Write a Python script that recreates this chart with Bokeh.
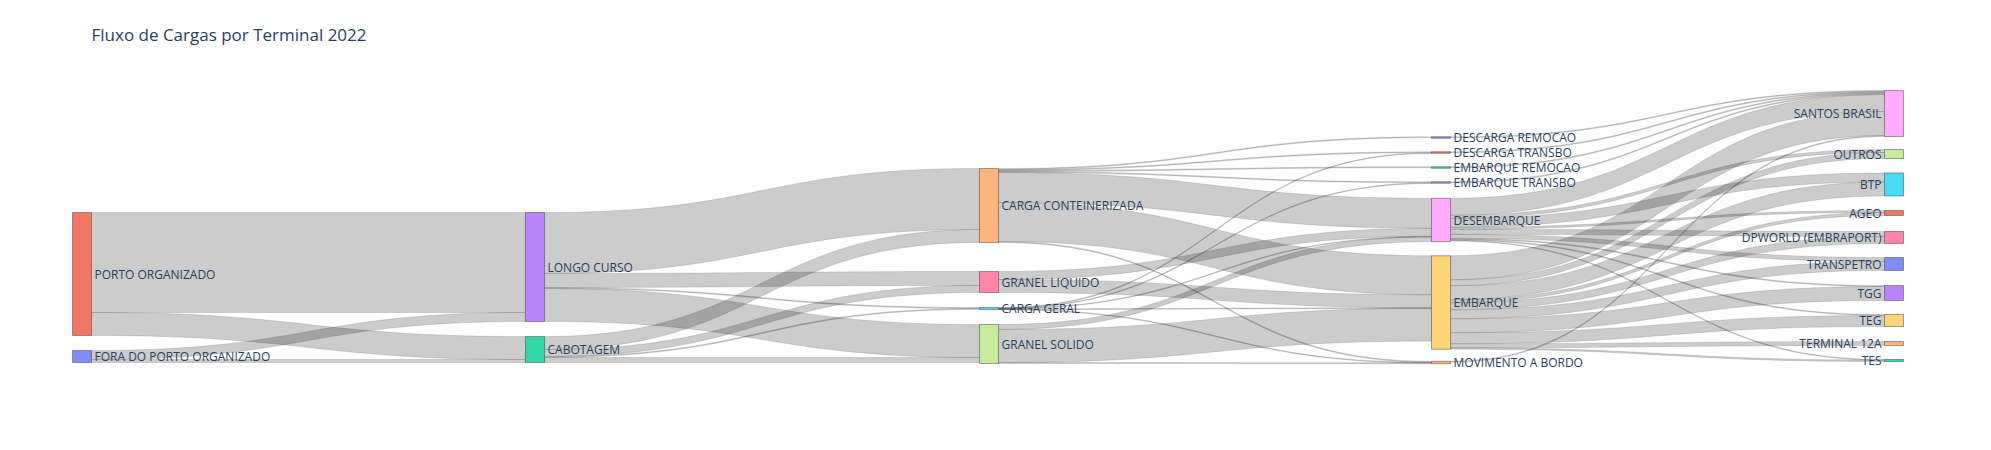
import numpy as np
from bokeh.plotting import figure
from bokeh.models import Range1d
from bokeh.core.properties import value
from bokeh.embed import file_html
from bokeh.resources import INLINE

title = "Fluxo de Cargas por Terminal 2022"
nodes = ["PORTO ORGANIZADO", "FORA DO PORTO ORGANIZADO", "LONGO CURSO", "CABOTAGEM",
         "CARGA CONTEINERIZADA", "GRANEL LIQUIDO", "CARGA GERAL", "GRANEL SOLIDO",
         "DESCARGA REMOCAO", "DESCARGA TRANSBO", "EMBARQUE REMOCAO", "EMBARQUE TRANSBO",
         "DESEMBARQUE", "EMBARQUE", "MOVIMENTO A BORDO",
         "SANTOS BRASIL", "OUTROS", "BTP", "AGEO", "DPWORLD (EMBRAPORT)", "TRANSPETRO",
         "TGG", "TEG", "TERMINAL 12A", "TES"]
node_colors = ["#EF553B", "#636EFA", "#AB63FA", "#00CC96", "#FFA15A", "#FF6692", "#19D3F3",
               "#B6E880", "#636EFA", "#EF553B", "#00CC96", "#AB63FA", "#FF97FF", "#FECB52",
               "#FFA15A", "#FF97FF", "#B6E880", "#19D3F3", "#EF553B", "#FF6692", "#636EFA",
               "#AB63FA", "#FECB52", "#FFA15A", "#00CC96"]
src = ["PORTO ORGANIZADO", "PORTO ORGANIZADO", "FORA DO PORTO ORGANIZADO", "FORA DO PORTO ORGANIZADO",
       "LONGO CURSO", "LONGO CURSO", "LONGO CURSO", "LONGO CURSO",
       "CABOTAGEM", "CABOTAGEM", "CABOTAGEM", "CABOTAGEM",
       "CARGA CONTEINERIZADA", "CARGA CONTEINERIZADA", "CARGA CONTEINERIZADA", "CARGA CONTEINERIZADA",
       "CARGA CONTEINERIZADA", "CARGA CONTEINERIZADA", "CARGA CONTEINERIZADA",
       "GRANEL LIQUIDO", "GRANEL LIQUIDO",
       "CARGA GERAL", "CARGA GERAL", "CARGA GERAL", "CARGA GERAL", "CARGA GERAL",
       "GRANEL SOLIDO", "GRANEL SOLIDO", "GRANEL SOLIDO",
       "DESCARGA REMOCAO", "DESCARGA TRANSBO", "EMBARQUE REMOCAO", "EMBARQUE TRANSBO", "MOVIMENTO A BORDO",
       "DESEMBARQUE", "DESEMBARQUE", "DESEMBARQUE", "DESEMBARQUE", "DESEMBARQUE", "DESEMBARQUE",
       "DESEMBARQUE", "DESEMBARQUE", "DESEMBARQUE",
       "EMBARQUE", "EMBARQUE", "EMBARQUE", "EMBARQUE", "EMBARQUE", "EMBARQUE", "EMBARQUE",
       "EMBARQUE", "EMBARQUE", "EMBARQUE"]
tgt = ["LONGO CURSO", "CABOTAGEM", "LONGO CURSO", "CABOTAGEM",
       "CARGA CONTEINERIZADA", "GRANEL LIQUIDO", "CARGA GERAL", "GRANEL SOLIDO",
       "CARGA CONTEINERIZADA", "GRANEL LIQUIDO", "CARGA GERAL", "GRANEL SOLIDO",
       "DESCARGA REMOCAO", "DESCARGA TRANSBO", "EMBARQUE REMOCAO", "EMBARQUE TRANSBO",
       "DESEMBARQUE", "EMBARQUE", "MOVIMENTO A BORDO",
       "DESEMBARQUE", "EMBARQUE",
       "DESCARGA TRANSBO", "EMBARQUE TRANSBO", "DESEMBARQUE", "EMBARQUE", "MOVIMENTO A BORDO",
       "DESEMBARQUE", "EMBARQUE", "MOVIMENTO A BORDO",
       "SANTOS BRASIL", "SANTOS BRASIL", "SANTOS BRASIL", "SANTOS BRASIL", "SANTOS BRASIL",
       "SANTOS BRASIL", "OUTROS", "BTP", "AGEO", "DPWORLD (EMBRAPORT)", "TRANSPETRO", "TGG", "TEG", "TES",
       "SANTOS BRASIL", "OUTROS", "BTP", "AGEO", "DPWORLD (EMBRAPORT)", "TRANSPETRO", "TGG", "TEG",
       "TERMINAL 12A", "TES"]
vals = [100, 23, 9, 3,
        61, 14, 1, 33,
        13, 7, 1, 5,
        1, 1, 1, 1, 30, 39, 1,
        8, 13,
        0.4, 0.4, 0.4, 0.4, 0.4,
        5, 33, 1,
        1, 1, 1, 1, 1,
        17, 3, 9, 2, 5, 4, 1, 1, 0.5,
        24, 6, 14, 3, 7, 9, 14, 11, 4, 1.5]

# layout (pixel space)
col_of = [0, 0, 1, 1, 2, 2, 2, 2, 3, 3, 3, 3, 3, 3, 3] + [4] * 10
col_x = [80, 533, 987, 1439, 1892]
node_cy = [281.5, 364, 274.5, 357, 213, 289.5, 316, 351.5, 145, 160, 175, 190, 227.5, 310, 370,
           121, 161.5, 192, 220.5, 245, 271.5, 300.5, 328, 351, 368]
NW = 19
K = 1.0  # px per unit

N = len(nodes)
idx = {n: i for i, n in enumerate(nodes)}
S = [idx[s] for s in src]
T = [idx[t] for t in tgt]
inv = np.zeros(N); outv = np.zeros(N)
for s, t, v in zip(S, T, vals):
    outv[s] += v; inv[t] += v
h = np.maximum(np.maximum(inv, outv) * K, 1.5)
top = np.array(node_cy) - h / 2

p = figure(width=1975, height=434, output_backend="svg", toolbar_location=None,
           x_range=Range1d(8, 1983), y_range=Range1d(442, 8), min_border=0)
p.axis.visible = False
p.grid.visible = False
p.outline_line_color = None

# link stacking
outoff = top.copy(); inoff = top.copy()
order_out = sorted(range(len(vals)), key=lambda i: (S[i], node_cy[T[i]]))
order_in = sorted(range(len(vals)), key=lambda i: (T[i], node_cy[S[i]]))
sy = {}; ty = {}
for i in order_out:
    w = max(vals[i] * K, 0.8)
    sy[i] = (outoff[S[i]], outoff[S[i]] + w); outoff[S[i]] += vals[i] * K
for i in order_in:
    w = max(vals[i] * K, 0.8)
    ty[i] = (inoff[T[i]], inoff[T[i]] + w); inoff[T[i]] += vals[i] * K

tt = np.linspace(0, 1, 40)
def bez(x0, y0, x1, y1):
    xm = (x0 + x1) / 2
    bx = (1-tt)**3*x0 + 3*(1-tt)**2*tt*xm + 3*(1-tt)*tt**2*xm + tt**3*x1
    by = (1-tt)**3*y0 + 3*(1-tt)**2*tt*y0 + 3*(1-tt)*tt**2*y1 + tt**3*y1
    return bx, by

xs, ys = [], []
for i in range(len(vals)):
    x0 = col_x[col_of[S[i]]] + NW; x1 = col_x[col_of[T[i]]]
    ax, ay = bez(x0, sy[i][0], x1, ty[i][0])
    bx, by = bez(x0, sy[i][1], x1, ty[i][1])
    xs.append(list(ax) + list(bx[::-1])); ys.append(list(ay) + list(by[::-1]))
p.patches(xs, ys, fill_color="black", fill_alpha=0.2, line_color="black", line_alpha=0.25, line_width=0.5)

nx = [col_x[col_of[i]] + NW / 2 for i in range(N)]
p.rect(x=nx, y=list(top + h / 2), width=NW, height=list(h), fill_color=node_colors, fill_alpha=0.8,
       line_color="#444444", line_width=0.5)

for i in range(N):
    last = col_of[i] == 4
    p.text(x=[col_x[col_of[i]] - 3 if last else col_x[col_of[i]] + NW + 3], y=[node_cy[i]], text=[nodes[i]],
           text_font=value("Open Sans"), text_font_size="12px", text_color="#2a3f5f",
           text_align="right" if last else "left", text_baseline="middle")

p.text(x=[99], y=[42], text=[title], text_font=value("Open Sans"), text_font_size="17px",
       text_color="#2a3f5f", text_baseline="middle")

open("out.html", "w").write(file_html(p, INLINE))
